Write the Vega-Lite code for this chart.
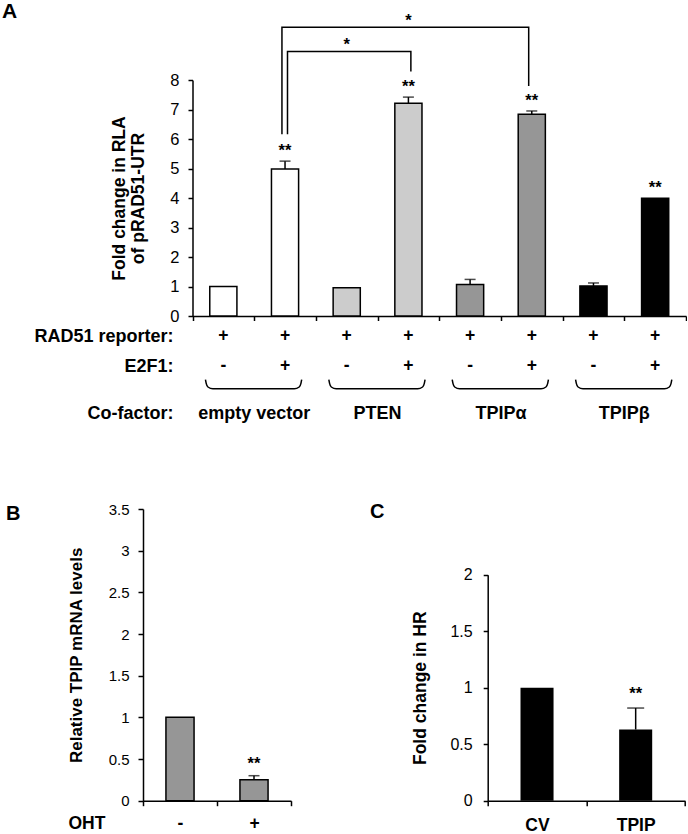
{
  "$schema": "https://vega.github.io/schema/vega-lite/v6.json",
  "padding": {"left": 2, "top": 0, "right": 0, "bottom": 0},
  "config": {
    "font": "Liberation Sans",
    "view": {"stroke": null},
    "axis": {"domainColor": "black", "tickColor": "black", "labelColor": "black", "titleColor": "black", "domainWidth": 1.5, "tickWidth": 1.5, "grid": false}
  },
  "datasets": {
    "bars": [
      {"cond": "EV-", "group": "empty vector", "value": 1.0, "hi": 1.0, "sig": ""},
      {"cond": "EV+", "group": "empty vector", "value": 4.98, "hi": 5.25, "sig": "**"},
      {"cond": "PTEN-", "group": "PTEN", "value": 0.96, "hi": 0.96, "sig": ""},
      {"cond": "PTEN+", "group": "PTEN", "value": 7.21, "hi": 7.42, "sig": "**"},
      {"cond": "TPIPa-", "group": "TPIPα", "value": 1.07, "hi": 1.24, "sig": ""},
      {"cond": "TPIPa+", "group": "TPIPα", "value": 6.84, "hi": 6.95, "sig": "**"},
      {"cond": "TPIPb-", "group": "TPIPβ", "value": 1.02, "hi": 1.12, "sig": ""},
      {"cond": "TPIPb+", "group": "TPIPβ", "value": 3.99, "hi": 3.99, "sig": "**"}
    ],
    "brackets": [
      {"b": "outer", "step": 1, "cond": "EV+", "y": 6.16},
      {"b": "outer", "step": 2, "cond": "EV+", "y": 9.79},
      {"b": "outer", "step": 3, "cond": "TPIPa+", "y": 9.79},
      {"b": "outer", "step": 4, "cond": "TPIPa+", "y": 7.8},
      {"b": "inner", "step": 1, "cond": "EV+", "y": 6.16},
      {"b": "inner", "step": 2, "cond": "EV+", "y": 8.97},
      {"b": "inner", "step": 3, "cond": "PTEN+", "y": 8.97},
      {"b": "inner", "step": 4, "cond": "PTEN+", "y": 8.29}
    ],
    "bracketStars": [
      {"cond": "PTEN+", "y": 9.79, "t": "*"},
      {"cond": "PTEN-", "y": 8.97, "t": "*"}
    ],
    "table": [
      {"cond": "EV-", "row": "RAD51 reporter:", "sym": "+"},
      {"cond": "EV+", "row": "RAD51 reporter:", "sym": "+"},
      {"cond": "PTEN-", "row": "RAD51 reporter:", "sym": "+"},
      {"cond": "PTEN+", "row": "RAD51 reporter:", "sym": "+"},
      {"cond": "TPIPa-", "row": "RAD51 reporter:", "sym": "+"},
      {"cond": "TPIPa+", "row": "RAD51 reporter:", "sym": "+"},
      {"cond": "TPIPb-", "row": "RAD51 reporter:", "sym": "+"},
      {"cond": "TPIPb+", "row": "RAD51 reporter:", "sym": "+"},
      {"cond": "EV-", "row": "E2F1:", "sym": "-"},
      {"cond": "EV+", "row": "E2F1:", "sym": "+"},
      {"cond": "PTEN-", "row": "E2F1:", "sym": "-"},
      {"cond": "PTEN+", "row": "E2F1:", "sym": "+"},
      {"cond": "TPIPa-", "row": "E2F1:", "sym": "-"},
      {"cond": "TPIPa+", "row": "E2F1:", "sym": "+"},
      {"cond": "TPIPb-", "row": "E2F1:", "sym": "-"},
      {"cond": "TPIPb+", "row": "E2F1:", "sym": "+"}
    ],
    "groups": [
      {"group": "empty vector", "row": "Co-factor:"},
      {"group": "PTEN", "row": "Co-factor:"},
      {"group": "TPIPα", "row": "Co-factor:"},
      {"group": "TPIPβ", "row": "Co-factor:"}
    ],
    "braces": [
      {"g": 1, "x": 0.21, "y": 1.06}, {"g": 1, "x": 0.222, "y": 1.03}, {"g": 1, "x": 0.25, "y": 1.0}, {"g": 1, "x": 0.33, "y": 0.986},
      {"g": 1, "x": 1.65, "y": 0.986}, {"g": 1, "x": 1.73, "y": 1.0}, {"g": 1, "x": 1.758, "y": 1.03}, {"g": 1, "x": 1.77, "y": 1.06},
      {"g": 2, "x": 2.21, "y": 1.06}, {"g": 2, "x": 2.222, "y": 1.03}, {"g": 2, "x": 2.25, "y": 1.0}, {"g": 2, "x": 2.33, "y": 0.986},
      {"g": 2, "x": 3.65, "y": 0.986}, {"g": 2, "x": 3.73, "y": 1.0}, {"g": 2, "x": 3.758, "y": 1.03}, {"g": 2, "x": 3.77, "y": 1.06},
      {"g": 3, "x": 4.21, "y": 1.06}, {"g": 3, "x": 4.222, "y": 1.03}, {"g": 3, "x": 4.25, "y": 1.0}, {"g": 3, "x": 4.33, "y": 0.986},
      {"g": 3, "x": 5.65, "y": 0.986}, {"g": 3, "x": 5.73, "y": 1.0}, {"g": 3, "x": 5.758, "y": 1.03}, {"g": 3, "x": 5.77, "y": 1.06},
      {"g": 4, "x": 6.21, "y": 1.06}, {"g": 4, "x": 6.222, "y": 1.03}, {"g": 4, "x": 6.25, "y": 1.0}, {"g": 4, "x": 6.33, "y": 0.986},
      {"g": 4, "x": 7.65, "y": 0.986}, {"g": 4, "x": 7.73, "y": 1.0}, {"g": 4, "x": 7.758, "y": 1.03}, {"g": 4, "x": 7.77, "y": 1.06}
    ],
    "panelB": [
      {"oht": "-", "value": 1.0, "hi": 1.0, "sig": ""},
      {"oht": "+", "value": 0.25, "hi": 0.3, "sig": "**"}
    ],
    "panelC": [
      {"k": "CV", "value": 1.0, "hi": 1.0, "sig": ""},
      {"k": "TPIP", "value": 0.63, "hi": 0.82, "sig": "**"}
    ]
  },
  "spacing": 0,
  "bounds": "flush",
  "vconcat": [
    {
      "width": 543,
      "height": 236,
      "title": {"text": "A", "anchor": "start", "frame": "group", "fontSize": 21, "fontWeight": "bold", "color": "black", "dx": -141, "dy": 9, "offset": 0, "baseline": "top"},
      "layer": [
        {
          "data": {"name": "bars"},
          "mark": {"type": "bar", "width": {"band": 0.44}, "stroke": "black", "strokeWidth": 1.5},
          "encoding": {
            "x": {"field": "cond", "type": "nominal",
              "scale": {"domain": ["EV-", "EV+", "PTEN-", "PTEN+", "TPIPa-", "TPIPa+", "TPIPb-", "TPIPb+"], "range": [49.5, 543], "paddingInner": 0, "paddingOuter": 0},
              "axis": {"labels": false, "title": null, "tickBand": "extent", "tickSize": 4.5}},
            "y": {"field": "value", "type": "quantitative",
              "scale": {"domain": [0, 8], "nice": false},
              "axis": {"values": [0, 1, 2, 3, 4, 5, 6, 7, 8], "tickCount": 20, "format": "~g", "labelOverlap": false, "offset": -49.5, "tickSize": 4.5, "labelPadding": 9, "labelFontSize": 16.5,
                "title": ["Fold change in RLA", "of pRAD51-UTR"], "titleFontSize": 17.5, "titleFontWeight": "bold", "titlePadding": 22, "titleLineHeight": 19.5}},
            "color": {"field": "group", "type": "nominal",
              "scale": {"domain": ["empty vector", "PTEN", "TPIPα", "TPIPβ"], "range": ["#ffffff", "#cccccc", "#969696", "#000000"]},
              "legend": null}
          }
        },
        {
          "data": {"name": "bars"},
          "transform": [{"filter": "datum.hi > datum.value"}],
          "mark": {"type": "rule", "color": "black", "strokeWidth": 1.5},
          "encoding": {
            "x": {"field": "cond", "type": "nominal"},
            "y": {"field": "value", "type": "quantitative"},
            "y2": {"field": "hi"}
          }
        },
        {
          "data": {"name": "bars"},
          "transform": [{"filter": "datum.hi > datum.value"}],
          "mark": {"type": "tick", "color": "black", "size": 11, "thickness": 1.5},
          "encoding": {
            "x": {"field": "cond", "type": "nominal"},
            "y": {"field": "hi", "type": "quantitative"}
          }
        },
        {
          "data": {"name": "bars"},
          "transform": [{"filter": "datum.sig != ''"}],
          "mark": {"type": "text", "fontSize": 16.5, "fontWeight": "bold", "baseline": "alphabetic", "dy": -5, "color": "black"},
          "encoding": {
            "x": {"field": "cond", "type": "nominal"},
            "y": {"field": "hi", "type": "quantitative"},
            "text": {"field": "sig"}
          }
        },
        {
          "data": {"name": "brackets"},
          "transform": [{"filter": "datum.b == 'outer'"}],
          "mark": {"type": "line", "color": "black", "strokeWidth": 1.5, "strokeJoin": "miter"},
          "encoding": {
            "x": {"field": "cond", "type": "nominal", "bandPosition": 0.45},
            "y": {"field": "y", "type": "quantitative"},
            "order": {"field": "step"}
          }
        },
        {
          "data": {"name": "brackets"},
          "transform": [{"filter": "datum.b == 'inner'"}],
          "mark": {"type": "line", "color": "black", "strokeWidth": 1.5, "strokeJoin": "miter"},
          "encoding": {
            "x": {"field": "cond", "type": "nominal", "bandPosition": 0.54},
            "y": {"field": "y", "type": "quantitative"},
            "order": {"field": "step"}
          }
        },
        {
          "data": {"name": "bracketStars"},
          "mark": {"type": "text", "fontSize": 16.5, "fontWeight": "bold", "baseline": "alphabetic", "dy": -1.5, "color": "black"},
          "encoding": {
            "x": {"field": "cond", "type": "nominal"},
            "y": {"field": "y", "type": "quantitative"},
            "text": {"field": "t"}
          }
        }
      ]
    },
    {
      "width": 543,
      "height": 70.6,
      "data": {"name": "table"},
      "mark": {"type": "text", "fontSize": 17.5, "fontWeight": "bold", "color": "black"},
      "encoding": {
        "x": {"field": "cond", "type": "nominal",
          "scale": {"domain": ["EV-", "EV+", "PTEN-", "PTEN+", "TPIPa-", "TPIPa+", "TPIPb-", "TPIPb+"], "range": [49.5, 543], "paddingInner": 0, "paddingOuter": 0},
          "axis": null},
        "y": {"field": "row", "type": "nominal",
          "scale": {"type": "point", "padding": 0.68, "domain": ["RAD51 reporter:", "E2F1:"]},
          "axis": {"title": null, "domain": false, "ticks": false, "tickSize": 0, "labelPadding": 19.5, "offset": -49.5, "labelFontSize": 18, "labelFontWeight": "bold"}},
        "text": {"field": "sym"}
      }
    },
    {
      "width": 543,
      "height": 121.7,
      "layer": [
        {
          "data": {"name": "braces"},
          "mark": {"type": "line", "interpolate": "monotone", "color": "black", "strokeWidth": 1.5},
          "encoding": {
            "x": {"field": "x", "type": "quantitative", "scale": {"domain": [0, 8], "range": [49.5, 543], "nice": false, "zero": false}, "axis": null},
            "y": {"field": "y", "type": "quantitative", "scale": {"domain": [0, 1], "nice": false, "zero": false}, "axis": null},
            "detail": {"field": "g"}
          }
        },
        {
          "data": {"name": "groups"},
          "mark": {"type": "text", "fontSize": 18, "fontWeight": "bold", "color": "black"},
          "encoding": {
            "x": {"field": "group", "type": "nominal",
              "scale": {"domain": ["empty vector", "PTEN", "TPIPα", "TPIPβ"], "range": [49.5, 543], "paddingInner": 0, "paddingOuter": 0},
              "axis": null},
            "y": {"field": "row", "type": "nominal",
              "scale": {"type": "point", "padding": 0.5, "align": 0.219},
              "axis": {"title": null, "domain": false, "ticks": false, "tickSize": 0, "labelPadding": 19.5, "offset": -49.5, "labelFontSize": 18, "labelFontWeight": "bold"}},
            "text": {"field": "group"}
          }
        }
      ],
      "resolve": {"scale": {"x": "independent", "y": "independent"}}
    },
    {
      "spacing": 196.7,
      "bounds": "flush",
      "hconcat": [
        {
          "width": 148,
          "height": 291.7,
          "title": {"text": "B", "anchor": "start", "frame": "group", "fontSize": 20, "fontWeight": "bold", "color": "black", "dx": -137, "dy": 38, "offset": 0, "baseline": "alphabetic"},
          "data": {"name": "panelB"},
          "layer": [
            {
              "mark": {"type": "bar", "width": {"band": 0.38}, "color": "#969696", "stroke": "black", "strokeWidth": 1.5},
              "encoding": {
                "x": {"field": "oht", "type": "nominal",
                  "scale": {"domain": ["-", "+"], "paddingInner": 0, "paddingOuter": 0},
                  "axis": {"title": "OHT", "titleX": -75, "titleY": 22.3, "titleAlign": "left", "titleBaseline": "middle", "titleAngle": 0, "titleFontSize": 17.5, "titleFontWeight": "bold",
                    "labelAngle": 0, "labelFontSize": 17.5, "labelFontWeight": "bold", "labelPadding": 9, "tickSize": 5, "tickBand": "extent"}},
                "y": {"field": "value", "type": "quantitative",
                  "scale": {"domain": [0, 3.5], "nice": false},
                  "axis": {"values": [0, 0.5, 1, 1.5, 2, 2.5, 3, 3.5], "tickCount": 20, "format": "~g", "labelOverlap": false, "tickSize": 5, "labelPadding": 9, "labelFontSize": 15,
                    "title": "Relative TPIP mRNA levels", "titleFontSize": 17, "titleFontWeight": "bold", "titlePadding": 23}}
              }
            },
            {
              "transform": [{"filter": "datum.hi > datum.value"}],
              "mark": {"type": "rule", "color": "black", "strokeWidth": 1.5},
              "encoding": {
                "x": {"field": "oht", "type": "nominal"},
                "y": {"field": "value", "type": "quantitative"},
                "y2": {"field": "hi"}
              }
            },
            {
              "transform": [{"filter": "datum.hi > datum.value"}],
              "mark": {"type": "tick", "color": "black", "size": 11, "thickness": 1.5},
              "encoding": {
                "x": {"field": "oht", "type": "nominal"},
                "y": {"field": "hi", "type": "quantitative"}
              }
            },
            {
              "transform": [{"filter": "datum.sig != ''"}],
              "mark": {"type": "text", "fontSize": 16.5, "fontWeight": "bold", "baseline": "alphabetic", "dy": -7, "color": "black"},
              "encoding": {
                "x": {"field": "oht", "type": "nominal"},
                "y": {"field": "hi", "type": "quantitative"},
                "text": {"field": "sig"}
              }
            }
          ]
        },
        {
          "width": 197.3,
          "height": 291.7,
          "title": {"text": "C", "anchor": "start", "frame": "group", "fontSize": 20, "fontWeight": "bold", "color": "black", "dx": -117.7, "dy": 29, "offset": 0, "baseline": "alphabetic"},
          "data": {"name": "panelC"},
          "layer": [
            {
              "mark": {"type": "bar", "width": {"band": 0.335}, "color": "#000000"},
              "encoding": {
                "x": {"field": "k", "type": "nominal",
                  "scale": {"domain": ["CV", "TPIP"], "paddingInner": 0, "paddingOuter": 0},
                  "axis": {"title": null, "labelAngle": 0, "labelFontSize": 17.5, "labelFontWeight": "bold", "labelPadding": 11, "tickSize": 5, "tickBand": "extent"}},
                "y": {"field": "value", "type": "quantitative",
                  "scale": {"domain": [0, 2], "nice": false, "range": [291.7, 65.7]},
                  "axis": {"values": [0, 0.5, 1, 1.5, 2], "tickCount": 20, "format": "~g", "labelOverlap": false, "tickSize": 4.5, "labelPadding": 11, "labelFontSize": 16,
                    "title": "Fold change in HR", "titleFontSize": 17.5, "titleFontWeight": "bold", "titlePadding": 20}}
              }
            },
            {
              "transform": [{"filter": "datum.hi > datum.value"}],
              "mark": {"type": "rule", "color": "black", "strokeWidth": 1.5},
              "encoding": {
                "x": {"field": "k", "type": "nominal"},
                "y": {"field": "value", "type": "quantitative"},
                "y2": {"field": "hi"}
              }
            },
            {
              "transform": [{"filter": "datum.hi > datum.value"}],
              "mark": {"type": "tick", "color": "black", "size": 17, "thickness": 1.5},
              "encoding": {
                "x": {"field": "k", "type": "nominal"},
                "y": {"field": "hi", "type": "quantitative"}
              }
            },
            {
              "transform": [{"filter": "datum.sig != ''"}],
              "mark": {"type": "text", "fontSize": 16.5, "fontWeight": "bold", "baseline": "alphabetic", "dy": -9, "color": "black"},
              "encoding": {
                "x": {"field": "k", "type": "nominal"},
                "y": {"field": "hi", "type": "quantitative"},
                "text": {"field": "sig"}
              }
            }
          ]
        }
      ]
    }
  ]
}
